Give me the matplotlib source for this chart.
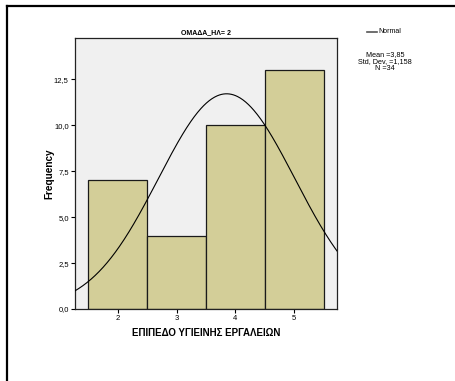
import numpy as np
import matplotlib
matplotlib.use("Agg")
import matplotlib.pyplot as plt
from matplotlib.lines import Line2D

plt.rcParams['font.family'] = ['Liberation Sans', 'DejaVu Sans']

# Data
categories = [2, 3, 4, 5]
frequencies = [7, 4, 10, 13]
mean_val = 3.85
std_val = 1.158
n_val = 34
y_ticks = [0.0, 2.5, 5.0, 7.5, 10.0, 12.5]
title = "ΟΜΑΔΑ_ΗΛ= 2"
x_label = "ΕΠΙΠΕΔΟ ΥΓΙΕΙΝΗΣ ΕΡΓΑΛΕΙΩΝ"
y_label = "Frequency"

fig = plt.figure(figsize=(4.55, 3.81), dpi=100)
fig.patch.set_facecolor('white')

# outer frame (top and left visible)
fig.add_artist(Line2D([6.5/455, 6.5/455], [0, 1 - 6/381], color='black', lw=1.6,
                      transform=fig.transFigure))
fig.add_artist(Line2D([6.5/455, 1], [1 - 6/381, 1 - 6/381], color='black', lw=1.6,
                      transform=fig.transFigure))

ax = fig.add_axes([75/455, 72/381, 262/455, 271/381])
ax.set_facecolor('#f0f0f0')

ax.bar(categories, frequencies, width=1.0, color='#d3ce98', edgecolor='#1a1a1a',
       linewidth=0.9, zorder=2)

xs = np.linspace(1.2, 5.8, 400)
bin_w = 1.0
ys = n_val * bin_w / (std_val * np.sqrt(2 * np.pi)) * np.exp(-0.5 * ((xs - mean_val) / std_val) ** 2)
ax.plot(xs, ys, color='black', lw=0.8, zorder=3)

ax.set_xlim(1.275, 5.725)
ax.set_ylim(0, 14.75)
ax.set_yticks(y_ticks)
ax.set_yticklabels([f"{v:.1f}".replace('.', ',') for v in y_ticks])
ax.set_xticks(categories)
ax.set_xticklabels([str(c) for c in categories])
ax.tick_params(axis='both', labelsize=5.5, length=3, width=0.8, pad=1.5, colors='black')
for s in ax.spines.values():
    s.set_linewidth(0.9)
    s.set_color('#222222')

ax.set_xlabel(x_label, fontsize=7, fontweight='bold', labelpad=4)
ax.set_ylabel(y_label, fontsize=7.2, fontweight='bold')
ax.yaxis.set_label_coords(-0.078, 0.5)
ax.set_title(title, fontsize=5, fontweight='bold', pad=2.5)

# legend-like annotation
fig.add_artist(Line2D([367/455, 377/455], [1 - 31.5/381, 1 - 31.5/381], color='#555555',
                      lw=1.2, transform=fig.transFigure))
fig.text(378/455, 1 - 31.5/381, "Normal", fontsize=5, va='center', ha='left')
fig.text(385/455, 1 - 62/381,
         f"Mean ={mean_val:.2f}".replace('.', ',') + "\n" +
         f"Std. Dev. ={std_val:.3f}".replace('.', ',') + "\n" +
         f"N ={n_val}",
         fontsize=5.2, va='center', ha='center', multialignment='center', linespacing=1.0)

fig.savefig("out.png", dpi=100)
